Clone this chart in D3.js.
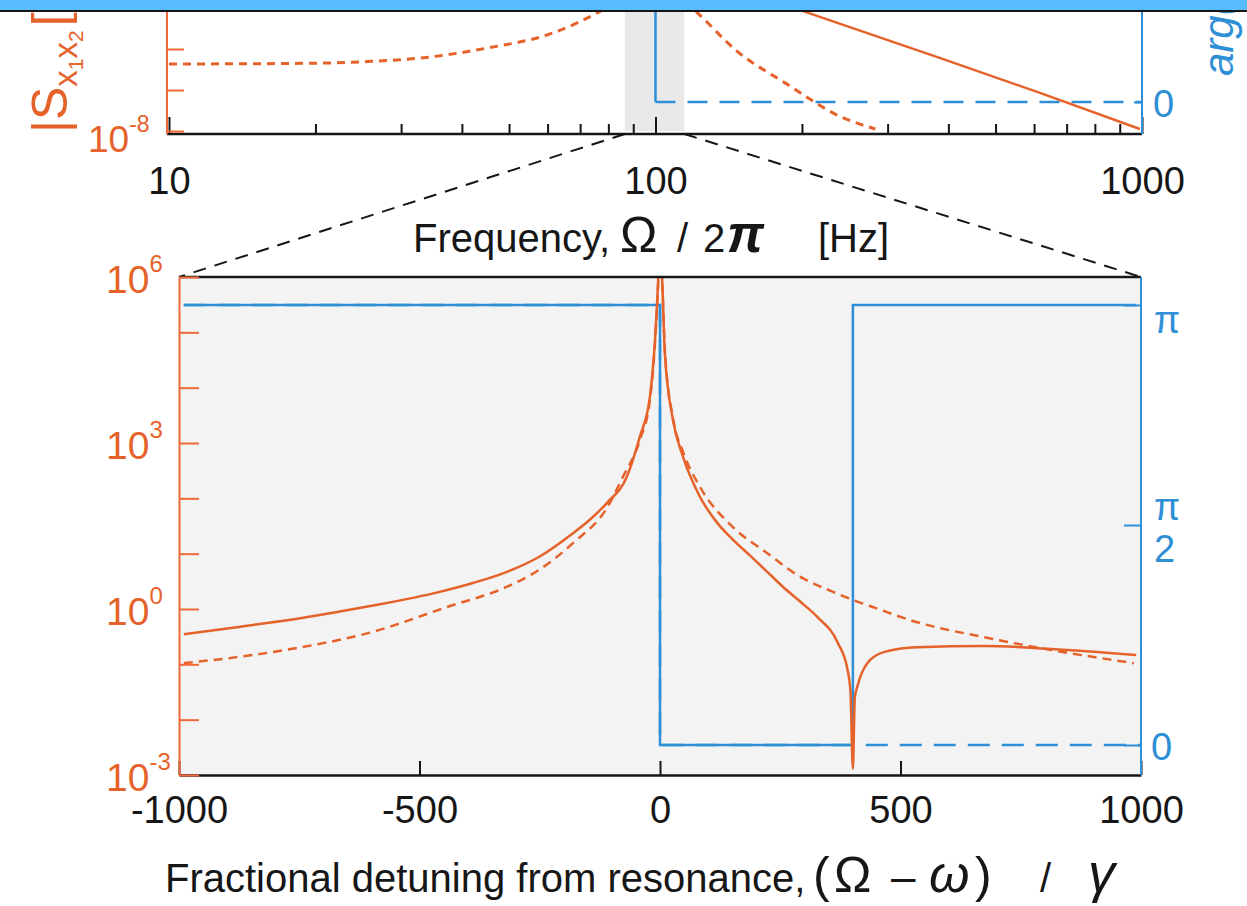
<!DOCTYPE html>
<html>
<head>
<meta charset="utf-8">
<script src="https://cdn.jsdelivr.net/npm/d3@7"></script>
<style>
  body { margin: 0; background: #fff; }
  svg { display: block; }
</style>
</head>
<body>
<div id="chart"></div>
<script>
// ---- data ----
// bottom panel: fractional detuning (Omega - omega)/gamma vs |S|
const solidDetuning = [-990, -880, -745, -605, -458, -389, -318, -250, -181, -146, -110, -69, -42, -21, -10, -4, 0, 5, 10, 27, 48, 83, 119, 152, 188, 223, 256, 292, 327, 369, 390, 396, 401, 405, 410, 431, 465, 535, 673, 813, 990];
const solidMag = [0.35, 0.47, 0.69, 1.12, 2.04, 2.95, 4.7, 8.9, 23.4, 41, 83, 245, 1290, 6800, 83000, 8e5, 6e6, 7e5, 43000, 2600, 560, 107, 36, 17.8, 9.1, 4.7, 2.5, 1.35, 0.72, 0.25, 0.079, 0.032, 0.0013, 0.025, 0.039, 0.105, 0.166, 0.204, 0.214, 0.19, 0.148];
const dashedDetuning = [-990, -880, -745, -605, -438, -319, -250, -181, -110, -77, -42, -21, -10, -4, 0, 5, 10, 27, 48, 83, 152, 223, 292, 360, 402, 438, 535, 673, 813, 985];
const dashedMag = [0.105, 0.135, 0.204, 0.37, 1.12, 2.5, 5.2, 15.5, 68, 245, 1120, 6000, 72000, 7.2e5, 6e6, 7e5, 50000, 2800, 690, 162, 30, 10.2, 3.8, 2.04, 1.45, 1.12, 0.575, 0.31, 0.182, 0.105];
// phase of the solid spectrum (steps) and of the dashed one
const phaseDetuning = [-990, 0, 0, 401, 401, 990];
const phaseSolid = [Math.PI, Math.PI, 0, 0, Math.PI, Math.PI];
const phaseDashedDetuning = [-990, 0, 0, 1000];
const phaseDashed = [Math.PI, Math.PI, 0, 0];

// top panel: frequency [Hz] vs |S|
const topDashedFreq = [10, 20, 26, 32.8, 45, 61.5, 75.9, 100, 122, 147, 186, 239, 283];
const topDashedMag = [4.3e-7, 4.5e-7, 5.0e-7, 6.0e-7, 1.05e-6, 2.45e-6, 7.6e-6, 6e-5, 7.6e-6, 8.9e-7, 1.41e-7, 2.3e-8, 1.12e-8];
const topSolidFreq = [180, 206, 385, 617, 990];
const topSolidMag = [1.3e-5, 7.6e-6, 6.0e-7, 8.5e-8, 1.12e-8];
const topPhaseFreq = [10, 100, 100];
const topPhase = [Math.PI, Math.PI, 0];
const topPhaseDashedFreq = [100, 1000];
const topPhaseDashed = [0, 0];
const zoomBand = [86.5, 114.6];

// ticks
const topMajorTicks = [10, 100, 1000];
const topMinorTicks = [20, 30, 40, 50, 60, 70, 80, 90, 200, 300, 400, 500, 600, 700, 800, 900];
const topMagTicks = [1e-8, 1e-7, 1e-6, 1e-5];
const detuningTicks = [-1000, -500, 0, 500, 1000];
const magTicks = [1e-3, 1e-2, 1e-1, 1e0, 1e1, 1e2, 1e3, 1e4, 1e5, 1e6];
const magLabelExps = [-3, 0, 3, 6];
const phaseTicks = [0, Math.PI / 2, Math.PI];

const W = 1247, H = 906;
const ORANGE = '#e5622a', ORANGE_AX = '#f2683a', BLUE = '#2e8fd6', INK = '#161616';
const FONT = "'Liberation Sans', Arial, sans-serif";

const svg = d3.select('#chart').append('svg')
  .attr('width', W)
  .attr('height', H)
  .style('font-family', FONT);

const defs = svg.append('defs');

// ---- scales ----
const xTop = d3.scaleLog().domain([10, 1000]).range([169, 1142]);
const yTop = d3.scaleLog().domain([1e-8, 1e-5]).range([131, 8]);
const pTop = d3.scaleLinear().domain([0, Math.PI]).range([102, -200]);
const topBottom = 134, topLeft = 167;

const xBot = d3.scaleLinear().domain([-1000, 1000]).range([179, 1141]);
const yBot = d3.scaleLog().domain([1e-3, 1e6]).range([775, 277]);
const pBot = d3.scaleLinear().domain([0, Math.PI]).range([745, 305]);

defs.append('clipPath').attr('id', 'clipTop').append('rect')
  .attr('x', topLeft).attr('y', 0).attr('width', 1142 - topLeft).attr('height', topBottom);
defs.append('clipPath').attr('id', 'clipBot').append('rect')
  .attr('x', xBot(-1000)).attr('y', yBot(1e6)).attr('width', xBot(1000) - xBot(-1000)).attr('height', yBot(1e-3) - yBot(1e6));

// text pieces placed at given x (axis titles with math bits)
function pieces(g, y, items, size) {
  g.selectAll(null)
    .data(items)
    .join('text')
    .attr('x', d => d.x).attr('y', y)
    .attr('fill', INK)
    .attr('font-size', d => d.size || size)
    .attr('font-style', d => d.italic ? 'italic' : null)
    .attr('font-weight', d => d.bold ? 'bold' : null)
    .text(d => d.t);
}

// ================= TOP PANEL =================
const topPanel = svg.append('g');

topPanel.append('rect')
  .attr('x', xTop(zoomBand[0])).attr('y', 0)
  .attr('width', xTop(zoomBand[1]) - xTop(zoomBand[0]))
  .attr('height', topBottom - 3)
  .attr('fill', '#e9e9e9');

const topPlot = topPanel.append('g').attr('clip-path', 'url(#clipTop)');

const phaseLineTop = d3.line().x(d => xTop(d[0])).y(d => pTop(d[1]));
topPlot.append('path')
  .datum(d3.zip(topPhaseFreq, topPhase))
  .attr('fill', 'none').attr('stroke', BLUE).attr('stroke-width', 2.5)
  .attr('d', phaseLineTop);
topPlot.append('path')
  .datum(d3.zip(topPhaseDashedFreq, topPhaseDashed))
  .attr('fill', 'none').attr('stroke', BLUE).attr('stroke-width', 2.5)
  .attr('stroke-dasharray', '20,12')
  .attr('d', phaseLineTop);

const magLineTop = d3.line().curve(d3.curveMonotoneX).x(d => xTop(d[0])).y(d => yTop(d[1]));
topPlot.append('path')
  .datum(d3.zip(topDashedFreq, topDashedMag))
  .attr('fill', 'none').attr('stroke', ORANGE).attr('stroke-width', 3)
  .attr('stroke-dasharray', '8,6')
  .attr('d', magLineTop);
topPlot.append('path')
  .datum(d3.zip(topSolidFreq, topSolidMag))
  .attr('fill', 'none').attr('stroke', ORANGE).attr('stroke-width', 2.5)
  .attr('d', magLineTop);

// top x axis (black, inward ticks)
const topXAxis = topPanel.append('g').attr('transform', `translate(0,${topBottom})`);
topXAxis.append('g')
  .call(d3.axisBottom(xTop).tickValues(topMinorTicks).tickSize(-10).tickSizeOuter(0).tickFormat(''))
  .call(g => g.select('.domain').remove());
topXAxis.append('g')
  .call(d3.axisBottom(xTop).tickValues(topMajorTicks).tickSize(-17).tickSizeOuter(0).tickPadding(33)
    .tickFormat(d => String(d)))
  .call(g => g.select('.domain').remove())
  .call(g => g.selectAll('text').attr('font-size', 38).attr('fill', INK).attr('font-family', FONT));
topXAxis.selectAll('line').attr('stroke', INK).attr('stroke-width', 2);
topXAxis.append('line')
  .attr('x1', topLeft).attr('x2', xTop(1000)).attr('stroke', INK).attr('stroke-width', 2.5);

// top left axis (orange)
topPanel.append('g')
  .attr('transform', `translate(${topLeft},0)`)
  .call(d3.axisLeft(yTop).tickValues(topMagTicks).tickSize(-17).tickSizeOuter(0).tickFormat(''))
  .call(g => g.select('.domain').remove())
  .call(g => g.selectAll('line').attr('stroke', ORANGE_AX).attr('stroke-width', 2));
topPanel.append('line')
  .attr('x1', topLeft).attr('x2', topLeft).attr('y1', 0).attr('y2', topBottom)
  .attr('stroke', ORANGE_AX).attr('stroke-width', 2);

const topLab = topPanel.append('text')
  .attr('x', 88).attr('y', yTop(1e-8) + 21)
  .attr('fill', ORANGE).attr('font-size', 37);
topLab.append('tspan').text('10');
topLab.append('tspan').attr('dy', -20).attr('font-size', 23).text('-8');

// top right axis (blue)
topPanel.append('line')
  .attr('x1', 1142).attr('x2', 1142).attr('y1', 0).attr('y2', topBottom)
  .attr('stroke', BLUE).attr('stroke-width', 2);
topPanel.append('g')
  .attr('transform', 'translate(1142,0)')
  .call(d3.axisRight(pTop).tickValues([0]).tickSize(-8).tickSizeOuter(0).tickFormat(''))
  .call(g => g.select('.domain').remove())
  .call(g => g.selectAll('line').attr('stroke', BLUE).attr('stroke-width', 2));
topPanel.append('text')
  .attr('x', 1153).attr('y', pTop(0) + 15)
  .attr('fill', BLUE).attr('font-size', 38).text('0');

// rotated axis labels (cut off by the page edge in the reference)
const leftLab = topPanel.append('text')
  .attr('transform', 'translate(67,133) rotate(-90)')
  .attr('fill', ORANGE).attr('font-size', 50);
leftLab.append('tspan').text('|S');
leftLab.append('tspan').attr('dy', 10).attr('font-size', 33).text('x');
leftLab.append('tspan').attr('dy', 6).attr('font-size', 21).text('1');
leftLab.append('tspan').attr('dy', -6).attr('font-size', 33).text('x');
leftLab.append('tspan').attr('dy', 6).attr('font-size', 21).text('2');
leftLab.append('tspan').attr('dy', -16).attr('dx', 4).text('[Ω²/Hz]');

topPanel.append('text')
  .attr('transform', 'translate(1233,76) rotate(-90)')
  .attr('fill', BLUE).attr('font-size', 42).attr('font-style', 'italic')
  .text('arg(S)');

pieces(topPanel, 252, [
  { t: 'Frequency,', x: 413 },
  { t: 'Ω', x: 620, size: 50 },
  { t: '/', x: 677 },
  { t: '2', x: 703 },
  { t: 'π', x: 727, size: 52, italic: true, bold: true },
  { t: '[Hz]', x: 818 }
], 40);

// zoom connector lines
const connectors = [
  [[xTop(zoomBand[0]), topBottom], [xBot(-1000), yBot(1e6)]],
  [[xTop(zoomBand[1]), topBottom], [xBot(1000), yBot(1e6)]]
];
svg.append('g').selectAll('path')
  .data(connectors)
  .join('path')
  .attr('d', d => d3.line()(d))
  .attr('fill', 'none').attr('stroke', INK).attr('stroke-width', 2)
  .attr('stroke-dasharray', '13,9');

// ================= BOTTOM PANEL =================
const bot = svg.append('g');

bot.append('rect')
  .attr('x', xBot(-1000)).attr('y', yBot(1e6))
  .attr('width', xBot(1000) - xBot(-1000)).attr('height', yBot(1e-3) - yBot(1e6))
  .attr('fill', '#f3f3f3');

const botPlot = bot.append('g').attr('clip-path', 'url(#clipBot)');

const phaseLineBot = d3.line().x(d => xBot(d[0])).y(d => pBot(d[1]));
botPlot.append('path')
  .datum(d3.zip(phaseDashedDetuning, phaseDashed))
  .attr('fill', 'none').attr('stroke', BLUE).attr('stroke-width', 2.5)
  .attr('stroke-dasharray', '22,12')
  .attr('d', phaseLineBot);
botPlot.append('path')
  .datum(d3.zip(phaseDetuning, phaseSolid))
  .attr('fill', 'none').attr('stroke', BLUE).attr('stroke-width', 2.5)
  .attr('d', phaseLineBot);

const magLineBot = d3.line().curve(d3.curveMonotoneX).x(d => xBot(d[0])).y(d => yBot(d[1]));
botPlot.append('path')
  .datum(d3.zip(dashedDetuning, dashedMag))
  .attr('fill', 'none').attr('stroke', ORANGE).attr('stroke-width', 2.5)
  .attr('stroke-dasharray', '9,6')
  .attr('d', magLineBot);
botPlot.append('path')
  .datum(d3.zip(solidDetuning, solidMag))
  .attr('fill', 'none').attr('stroke', ORANGE).attr('stroke-width', 2.5)
  .attr('d', magLineBot);

// bottom x axis
bot.append('g')
  .attr('transform', `translate(0,${yBot(1e-3)})`)
  .call(d3.axisBottom(xBot).tickValues(detuningTicks).tickSize(-14).tickSizeOuter(0).tickPadding(21)
    .tickFormat(d => String(d)))
  .call(g => g.select('.domain').attr('stroke', INK).attr('stroke-width', 2.5))
  .call(g => g.selectAll('line').attr('stroke', INK).attr('stroke-width', 2))
  .call(g => g.selectAll('text').attr('font-size', 38).attr('fill', INK).attr('font-family', FONT));

// top frame line
bot.append('line')
  .attr('x1', xBot(-1000)).attr('x2', xBot(1000)).attr('y1', yBot(1e6)).attr('y2', yBot(1e6))
  .attr('stroke', INK).attr('stroke-width', 2.5);

// left axis (orange, log)
bot.append('g')
  .attr('transform', `translate(${xBot(-1000)},0)`)
  .call(d3.axisLeft(yBot).tickValues(magTicks).tickSize(-20).tickSizeOuter(0).tickFormat(''))
  .call(g => g.select('.domain').attr('stroke', ORANGE_AX).attr('stroke-width', 2))
  .call(g => g.selectAll('line').attr('stroke', ORANGE_AX).attr('stroke-width', 2));

bot.append('g').selectAll('text')
  .data(magLabelExps)
  .join('text')
  .attr('x', 106)
  .attr('y', d => yBot(Math.pow(10, d)) + 16)
  .attr('fill', ORANGE).attr('font-size', 39)
  .each(function (d) {
    const t = d3.select(this);
    t.append('tspan').text('10');
    t.append('tspan').attr('dy', -21).attr('font-size', 24).text(String(d));
  });

// right axis (blue, phase)
bot.append('g')
  .attr('transform', `translate(${xBot(1000)},0)`)
  .call(d3.axisRight(pBot).tickValues(phaseTicks).tickSize(-17).tickSizeOuter(0).tickFormat(''))
  .call(g => g.select('.domain').remove())
  .call(g => g.selectAll('line').attr('stroke', BLUE).attr('stroke-width', 2));
bot.append('line')
  .attr('x1', xBot(1000)).attr('x2', xBot(1000)).attr('y1', yBot(1e6)).attr('y2', yBot(1e-3))
  .attr('stroke', BLUE).attr('stroke-width', 2);

const phaseLab = bot.append('g').attr('fill', BLUE).attr('font-size', 38);
phaseLab.append('text').attr('x', 1154).attr('y', pBot(Math.PI) + 28).text('π');
phaseLab.append('text').attr('x', 1154).attr('y', pBot(Math.PI / 2) - 5).text('π');
phaseLab.append('text').attr('x', 1154).attr('y', pBot(Math.PI / 2) + 37).text('2');
phaseLab.append('text').attr('x', 1151).attr('y', pBot(0) + 15).text('0');

pieces(bot, 892, [
  { t: 'Fractional detuning from resonance,', x: 165 },
  { t: '(', x: 813, size: 50 },
  { t: 'Ω', x: 834, size: 50 },
  { t: '–', x: 891, size: 44 },
  { t: 'ω', x: 929, size: 52, italic: true },
  { t: ')', x: 975, size: 50 },
  { t: '/', x: 1040 },
  { t: 'γ', x: 1088, size: 54, italic: true }
], 40);

// header strip of the cropped page
svg.append('rect').attr('x', 0).attr('y', 0).attr('width', W).attr('height', 10).attr('fill', '#56bcfd');
svg.append('rect').attr('x', 0).attr('y', 10).attr('width', W).attr('height', 2).attr('fill', INK);
</script>
</body>
</html>
